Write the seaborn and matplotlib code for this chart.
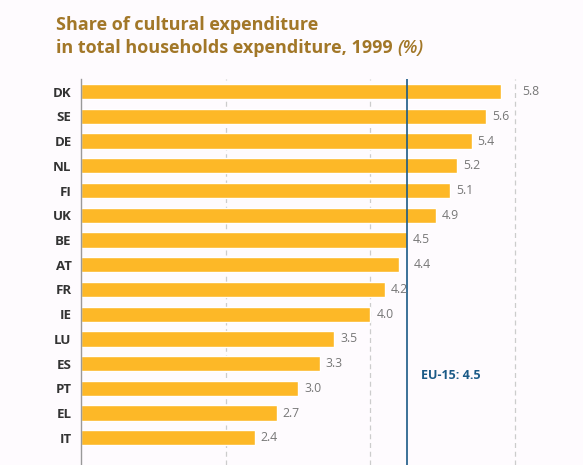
import matplotlib.pyplot as plt
import seaborn as sns
import pandas as pd
import numpy as np

# Data
countries = ['DK', 'SE', 'DE', 'NL', 'FI', 'UK', 'BE', 'AT', 'FR', 'IE',
             'LU', 'ES', 'PT', 'EL', 'IT']
shares = [5.8, 5.6, 5.4, 5.2, 5.1, 4.9, 4.5, 4.4, 4.2, 4.0,
          3.5, 3.3, 3.0, 2.7, 2.4]
eu15 = 4.5
grid_x = [2, 4, 6]

df = pd.DataFrame({'country': countries, 'share': shares})

bg = '#FEFBFE'
bar_color = '#FDB827'
title_color = '#A27728'
eu_color = '#1A5A87'

sns.set_style('white')
plt.rcParams['font.family'] = ['Open Sans', 'DejaVu Sans']

fig = plt.figure(figsize=(5.83, 4.65), dpi=100, facecolor=bg)
ax = fig.add_axes([0.1395, 0.0, 0.8605, 0.8295])
ax.set_facecolor(bg)

sns.barplot(data=df, y='country', x='share', orient='h', color=bar_color,
            width=0.62, saturation=1, ax=ax)

ax.set_xlim(0, 6.94)
ax.set_ylim(15.1, -0.5)

# dashed vertical gridlines
for gx in grid_x:
    ax.axvline(gx, color='#CCCCCC', linestyle=(0, (4, 3)), linewidth=0.9, zorder=0)

# EU-15 average line
ax.axvline(eu15, color=eu_color, linewidth=1.2, zorder=3)
ax.text(eu15 + 0.2, 11.5, f'EU-15: {eu15}', color=eu_color, fontsize=9,
        fontweight='bold', va='center', ha='left')

# value labels, nudged past any vertical line they would sit on
lines_x = grid_x + [eu15]
for i, v in enumerate(shares):
    start = v + 0.08
    for lx in lines_x:
        if start - 0.02 <= lx <= start + 0.2:
            start = lx + 0.1
    ax.text(start, i, f'{v:.1f}', color='#777777', fontsize=8.8,
            va='center', ha='left')

for s in ['top', 'right', 'bottom']:
    ax.spines[s].set_visible(False)
ax.spines['left'].set_color('#999999')
ax.spines['left'].set_linewidth(1.0)

ax.set_xticks([])
ax.set_xlabel('')
ax.set_ylabel('')
ax.set_yticks(range(len(countries)))
ax.set_yticklabels(countries, fontsize=9.5, fontweight='bold', color='#333333')
ax.set_yticks(np.arange(-0.5, len(countries) + 0.5, 1), minor=True)
ax.tick_params(axis='y', which='major', length=0, pad=7)
ax.tick_params(axis='y', which='minor', length=4, direction='in',
               color='#999999', width=1.0)

# title
fig.text(0.096, 0.9355, 'Share of cultural expenditure', color=title_color,
         fontsize=13, fontweight='bold', ha='left', va='baseline')
t2 = fig.text(0.096, 0.886, 'in total households expenditure, 1999 ', color=title_color,
              fontsize=13, fontweight='bold', ha='left', va='baseline')
fig.canvas.draw()
bb = t2.get_window_extent()
fig.text(bb.x1 / fig.bbox.width, 0.886, '(%)', color=title_color, fontsize=13,
         fontweight='semibold', fontstyle='italic', ha='left', va='baseline')

fig.savefig('out.png', dpi=100, facecolor=bg)
